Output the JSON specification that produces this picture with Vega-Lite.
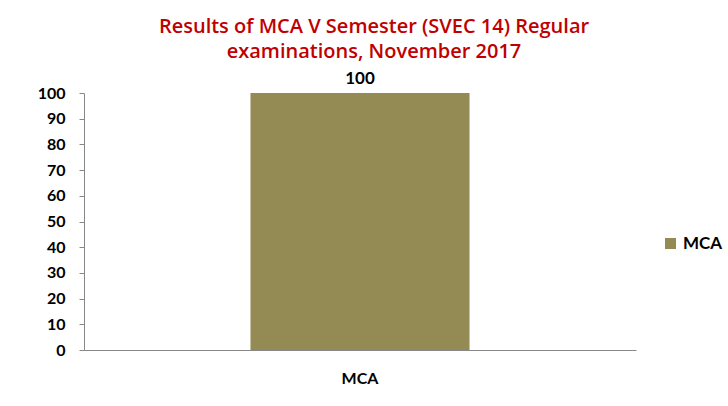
{
  "$schema": "https://vega.github.io/schema/vega-lite/v6.json",
  "width": 552,
  "height": 257,
  "autosize": {"type": "none"},
  "padding": {"left": 84, "top": 93, "right": 92, "bottom": 56},
  "background": "white",
  "title": {
    "text": ["Results of  MCA V Semester (SVEC 14) Regular", "examinations,  November 2017"],
    "font": "Open Sans",
    "fontSize": 20,
    "fontWeight": 600,
    "color": "#C00000",
    "anchor": "middle",
    "dx": 14,
    "offset": 8,
    "lineHeight": 25
  },
  "data": {"values": [{"category": "MCA", "series": "MCA", "value": 100}]},
  "encoding": {
    "x": {
      "field": "category", "type": "nominal",
      "scale": {"paddingInner": 0.5, "paddingOuter": 0.38},
      "axis": {"title": null, "labelAngle": 0, "labelFont": "Lato", "labelFontSize": 16, "labelFontWeight": "bold", "labelColor": "#000", "labelPadding": 20, "ticks": false, "domainColor": "#888"}
    },
    "y": {
      "field": "value", "type": "quantitative",
      "scale": {"domain": [0, 100]},
      "axis": {"title": null, "values": [0,10,20,30,40,50,60,70,80,90,100], "labelOverlap": false, "grid": false, "labelFont": "Lato", "labelFontSize": 16, "labelFontWeight": "bold", "labelColor": "#000", "labelPadding": 14, "tickColor": "#888", "domainColor": "#888", "tickSize": 5}
    }
  },
  "layer": [
    {
      "mark": {"type": "bar", "color": "#948A54"},
      "encoding": {
        "fill": {
          "field": "series", "type": "nominal",
          "scale": {"range": ["#948A54"]},
          "legend": {"title": null, "orient": "none", "legendX": 578, "legendY": 142, "symbolType": "square", "symbolSize": 121, "labelFont": "Lato", "labelFontSize": 17, "labelFontWeight": "bold", "labelColor": "#000", "symbolStrokeWidth": 0}
        }
      }
    },
    {
      "mark": {"type": "text", "dy": -14, "font": "Lato", "fontSize": 17, "fontWeight": "bold", "color": "#000"},
      "encoding": {
        "text": {"field": "value", "type": "quantitative"}
      }
    }
  ],
  "config": {"view": {"stroke": null}}
}
